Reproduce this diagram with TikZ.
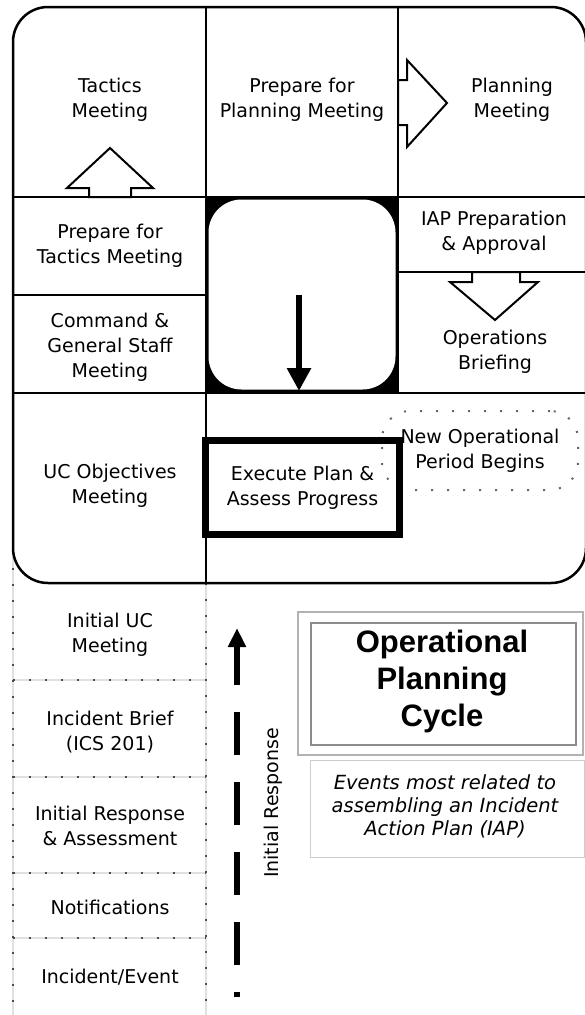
\documentclass[tikz,border=0pt]{standalone}
\usepackage{fontspec}
\setmainfont{DejaVu Sans}
\newfontfamily\titlefont{Liberation Sans}
\usetikzlibrary{arrows.meta}
\begin{document}
\begin{tikzpicture}[x=1pt,y=-1pt,
  lbl/.style={align=center, inner sep=0pt, text=black, font=\fontsize{19}{25}\selectfont},
  cell/.style={line width=2pt},
  blockarrow/.style={draw=black, fill=white, line width=2pt, line join=miter},
  dotline/.style={draw=black!12, line width=1.2pt, postaction={draw=black!70, line width=2.2pt, dash pattern=on 2.2pt off 13.8pt}},
  dotbox/.style={draw=black!60, line width=2pt, dash pattern=on 2pt off 14pt, rounded corners=28pt},
  titletext/.style={align=center, inner sep=0pt, text=black, font=\titlefont\bfseries\fontsize{31}{37}\selectfont},
  captext/.style={align=center, inner sep=0pt, text=black, font=\itshape\fontsize{19.5}{23}\selectfont},
  ]
\useasboundingbox (0,0) rectangle (584,1015);

% dotted lower stack
\draw[dotline] (13,552) -- (13,1015);
\draw[dotline] (206,583) -- (206,1015);
\foreach \yy in {680,777,873,938} \draw[dotline] (13,\yy) -- (206,\yy);

% black centre square with white rounded inset
\fill[black] (206,197) rectangle (398,392);
\fill[white, rounded corners=33pt] (208.5,199.5) rectangle (395.5,389.5);

% main rounded frame
\draw[line width=2.5pt, rounded corners=35pt] (13,7) rectangle (586,583);

% grid lines
\draw[cell] (206,7) -- (206,583);
\draw[cell] (398,7) -- (398,392);
\draw[cell] (13,197) -- (586,197);
\draw[cell] (13,295) -- (206,295);
\draw[cell] (13,392.5) -- (586,392.5);
\draw[cell] (398,272) -- (586,272);

% hollow block arrows
\draw[blockarrow] (89,197) -- (89,188) -- (67,188) -- (110,148) -- (153,188) -- (131,188) -- (131,197) -- cycle;
\draw[blockarrow] (398,80) -- (407,80) -- (407,60) -- (447,103) -- (407,147) -- (407,125) -- (398,125) -- cycle;
\draw[blockarrow] (472,272) -- (472,282) -- (450,282) -- (495,320) -- (538,282) -- (520,282) -- (520,272) -- cycle;

% cycle labels
\node[lbl] (tm) at (110,100) {Tactics\\Meeting};
\node[lbl] (ppm) at (302,100) {Prepare for\\Planning Meeting};
\node[lbl] (pm) at (512,100) {Planning\\Meeting};
\node[lbl] (ptm) at (110,246) {Prepare for\\Tactics Meeting};
\node[lbl] (cgs) at (110,347) {Command \&\\General Staff\\Meeting};
\node[lbl] (iap) at (494,233) {IAP Preparation\\\& Approval};
\node[lbl] (ob) at (495,352) {Operations\\Briefing};
\node[lbl] (uco) at (110,486) {UC Objectives\\Meeting};

\node[dotbox, lbl, minimum width=196pt, minimum height=79pt] (nop) at (480,450.5) {New Operational\\Period Begins};
\node[draw, lbl, line width=7pt, minimum width=194pt, minimum height=94pt] (exec) at (302.5,487.5) {Execute Plan \&\\Assess Progress};

% centre arrow
\coordinate (ca1) at (299,295);
\coordinate (ca2) at (299,391);
\draw[line width=6pt, -{Triangle[width=23pt,length=23pt]}] (ca1) -- (ca2);

% initial response stack
\node[lbl] (iuc) at (110,635) {Initial UC\\Meeting};
\node[lbl] (ib) at (110,732) {Incident Brief\\(ICS 201)};
\node[lbl] (ira) at (110,826) {Initial Response\\\& Assessment};
\node[lbl] (nt) at (110,907) {Notifications};
\node[lbl] (ie) at (110,977) {Incident/Event};

% dashed initial response arrow
\coordinate (ir0) at (237,997);
\coordinate (ir1) at (237,628);
\draw[line width=5.5pt, dash pattern=on 43pt off 27pt, dash phase=38pt, -{Triangle[width=17pt,length=19pt]}] (ir0) -- (ir1);
\node[lbl, rotate=90] (irl) at (273,803) {Initial Response};

% title block
\node[draw=black!30, line width=2.8pt, minimum width=285pt, minimum height=143pt] (opcframe) at (440.5,683.5) {};
\node[draw=black!45, line width=1.3pt, minimum width=265pt, minimum height=122pt] (opcinner) at (443.5,684) {};
\node[titletext] (opc) at (442,681) {Operational\\Planning\\Cycle};

% caption
\node[draw=black!20, line width=1pt, minimum width=274pt, minimum height=97pt] (capbox) at (447,808.5) {};
\node[captext] (cap) at (445,806) {Events most related to\\assembling an Incident\\Action Plan (IAP)};
\end{tikzpicture}
\end{document}
